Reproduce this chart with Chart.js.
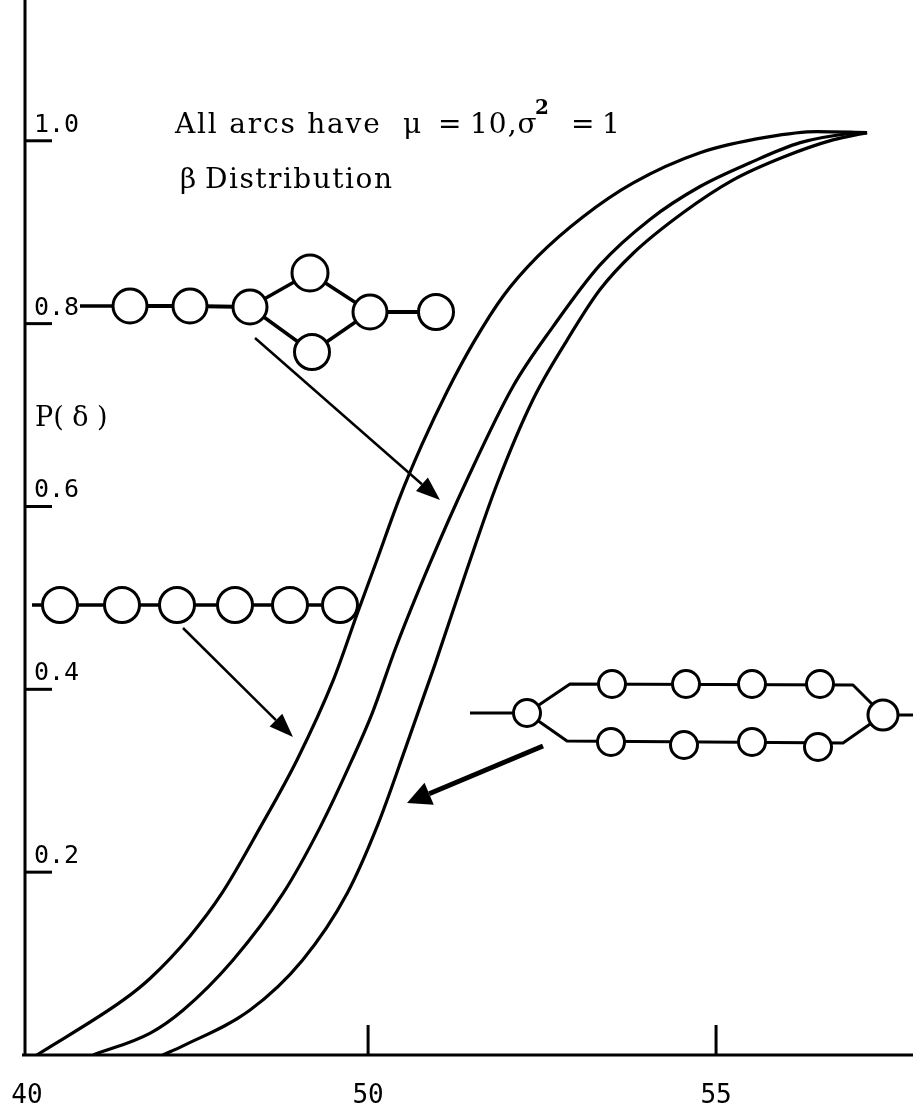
<!DOCTYPE html>
<html><head><meta charset="utf-8">
<script src="https://cdn.jsdelivr.net/npm/chart.js@4.4.0/dist/chart.umd.min.js"></script>
<style>html,body{margin:0;padding:0;background:#fff;overflow:hidden}#wrap{width:913px;height:1110px;position:relative}</style>
</head><body><div id="wrap"><canvas id="c" width="913" height="1110"></canvas></div>
<script>
// ---- data ----
const curveA_x = [45.24, 46.48, 46.87, 47.44, 47.90, 48.45, 48.98, 49.50, 49.85, 50.13, 50.44, 50.77, 51.13, 51.52, 51.94, 52.43, 53.09, 53.81, 54.77, 55.73, 56.45, 57.17];
const curveA_y = [0, 0.060, 0.084, 0.130, 0.177, 0.249, 0.323, 0.410, 0.484, 0.542, 0.607, 0.667, 0.725, 0.780, 0.830, 0.873, 0.917, 0.954, 0.987, 1.004, 1.010, 1.009];
const curveB_x = [46.05, 46.87, 47.34, 48.06, 48.78, 49.31, 49.77, 50.06, 50.40, 50.89, 51.42, 52.08, 52.66, 53.33, 54.05, 54.77, 55.49, 56.21, 56.92, 57.17];
const curveB_y = [0, 0.024, 0.049, 0.104, 0.177, 0.249, 0.323, 0.374, 0.446, 0.538, 0.629, 0.731, 0.797, 0.864, 0.914, 0.950, 0.976, 0.998, 1.008, 1.009];
const curveC_x = [47.05, 47.34, 48.30, 49.06, 49.70, 50.14, 50.53, 50.96, 51.42, 51.85, 52.37, 52.86, 53.33, 53.81, 54.52, 55.24, 55.96, 56.68, 57.17];
const curveC_y = [0, 0.010, 0.049, 0.104, 0.177, 0.252, 0.334, 0.427, 0.531, 0.624, 0.717, 0.782, 0.837, 0.877, 0.921, 0.957, 0.982, 1.001, 1.009];

const xTickValues = [45.07, 50, 55];
const xTickLabels = ['40', '50', '55'];
const yTickValues = [0.2, 0.4, 0.6, 0.8, 1.0];
const yTickLabels = ['0.2', '0.4', '0.6', '0.8', '1.0'];
const yAxisTitle = 'P( δ )';
const noteLine1 = ['All arcs have', 'μ', '=', '10,σ', '2', '=', '1'];
const noteLine2 = ['β', 'Distribution'];

const X_MIN = 45.07, X_MAX = 57.83, Y_MIN = 0, Y_MAX = 1.154;

function pts(xs, ys){ return xs.map((x,i)=>({x:x, y:ys[i]})); }

function circle(ctx, x, y, r){
  ctx.beginPath(); ctx.arc(x, y, r, 0, Math.PI*2);
  ctx.fillStyle = '#fff'; ctx.fill();
  ctx.lineWidth = 3; ctx.strokeStyle = '#000'; ctx.stroke();
}
function seg(ctx, pts, w){
  ctx.beginPath(); ctx.moveTo(pts[0][0], pts[0][1]);
  for (let i=1;i<pts.length;i++) ctx.lineTo(pts[i][0], pts[i][1]);
  ctx.lineWidth = w; ctx.strokeStyle = '#000'; ctx.lineCap='butt'; ctx.lineJoin='round'; ctx.stroke();
}
function arrow(ctx, x0, y0, x1, y1, w, hl, hw){
  const a = Math.atan2(y1-y0, x1-x0);
  const bx = x1 - hl*Math.cos(a), by = y1 - hl*Math.sin(a);
  seg(ctx, [[x0,y0],[bx,by]], w);
  ctx.beginPath();
  ctx.moveTo(x1, y1);
  ctx.lineTo(bx + hw*Math.sin(a), by - hw*Math.cos(a));
  ctx.lineTo(bx - hw*Math.sin(a), by + hw*Math.cos(a));
  ctx.closePath(); ctx.fillStyle = '#000'; ctx.fill();
}

const decor = {
  id: 'decor',
  beforeDraw(chart){
    const ctx = chart.ctx;
    ctx.save(); ctx.fillStyle = '#fff'; ctx.fillRect(0,0,chart.width,chart.height); ctx.restore();
  },
  beforeDatasetsDraw(chart){
    const ctx = chart.ctx; ctx.save();
    // Diagram 1: series with one parallel pair
    seg(ctx, [[80,306],[130,306]], 3.5);
    seg(ctx, [[130,306],[190,306],[250,307]], 4);
    seg(ctx, [[250,307],[310,273],[370,312]], 3.5);
    seg(ctx, [[250,307],[312,352],[370,312]], 3.5);
    seg(ctx, [[370,312],[436,312]], 4);
    [[130,306,17],[190,306,17],[250,307,17],[310,273,18],[312,352,17.5],[370,312,17],[436,312,17.5]].forEach(c=>circle(ctx,c[0],c[1],c[2]));
    // Diagram 2: six in series
    seg(ctx, [[32,605],[340,605]], 3.5);
    [60,122,177,235,290,340].forEach(x=>circle(ctx,x,605,17.5));
    // Diagram 3: two parallel chains
    seg(ctx, [[470,713],[527,713]], 3);
    seg(ctx, [[527,713],[570,684],[853,685],[883,715]], 3);
    seg(ctx, [[527,713],[567,741],[843,743],[883,715]], 3);
    seg(ctx, [[883,715],[913,715]], 3);
    circle(ctx,527,713,13.5);
    [612,686,752,820].forEach(x=>circle(ctx,x,684,13.5));
    [[611,742],[684,745],[752,742],[818,747]].forEach(p=>circle(ctx,p[0],p[1],13.5));
    circle(ctx,883,715,15);
    // arrows
    arrow(ctx, 255, 338, 440, 500, 2.5, 24, 9);
    arrow(ctx, 183, 628, 293, 737, 2.5, 24, 9);
    arrow(ctx, 543, 746, 407, 803, 5, 24, 12);
    ctx.restore();
  },
  afterDatasetsDraw(chart){
    const ctx = chart.ctx, a = chart.chartArea;
    const xs = chart.scales.x, ys = chart.scales.y;
    ctx.save();
    ctx.strokeStyle = '#000'; ctx.fillStyle = '#000';
    // axes
    seg(ctx, [[a.left, 0],[a.left, a.bottom]], 3);
    seg(ctx, [[a.left-3, a.bottom],[a.right, a.bottom]], 3);
    // x ticks
    ctx.font = '26px "DejaVu Sans Mono"'; ctx.textAlign = 'center'; ctx.textBaseline = 'alphabetic';
    xTickValues.forEach((v,i)=>{
      const px = xs.getPixelForValue(v);
      if (i>0) seg(ctx, [[px, a.bottom],[px, a.bottom-30]], 3);
      ctx.fillText(xTickLabels[i], i===0 ? px+2 : px, a.bottom+48);
    });
    // y ticks
    ctx.font = '25px "DejaVu Sans Mono"'; ctx.textAlign = 'left';
    yTickValues.forEach((v,i)=>{
      const py = ys.getPixelForValue(v);
      seg(ctx, [[a.left, py],[a.left+27, py]], 3);
      ctx.fillText(yTickLabels[i], a.left+9, py-9);
    });
    // y axis title
    ctx.font = '27px "DejaVu Serif"';
    ctx.fillText(yAxisTitle, a.left+10, 426);
    // notes
    ctx.font = '28px "DejaVu Serif"';
    ctx.letterSpacing = '1.8px';
    ctx.fillText(noteLine1[0], 175, 133);
    ctx.letterSpacing = '0px';
    ctx.fillText(noteLine1[1], 403, 133);
    ctx.fillText(noteLine1[2], 438, 133);
    ctx.letterSpacing = '1px';
    ctx.fillText(noteLine1[3], 470, 133);
    ctx.letterSpacing = '0px';
    ctx.fillText(noteLine1[5], 571, 133);
    ctx.fillText(noteLine1[6], 602, 133);
    ctx.font = 'bold 20px "DejaVu Serif"';
    ctx.fillText(noteLine1[4], 535, 114);
    ctx.font = '28px "DejaVu Serif"';
    ctx.fillText(noteLine2[0], 180, 188);
    ctx.letterSpacing = '1.5px';
    ctx.fillText(noteLine2[1], 205, 188);
    ctx.letterSpacing = '0px';
    ctx.restore();
  }
};

new Chart(document.getElementById('c'), {
  type: 'line',
  data: {
    datasets: [
      {data: pts(curveA_x, curveA_y)},
      {data: pts(curveB_x, curveB_y)},
      {data: pts(curveC_x, curveC_y)}
    ].map(d => Object.assign(d, {borderColor:'#000', borderWidth:3.2, pointRadius:0, fill:false, cubicInterpolationMode:'monotone'}))
  },
  options: {
    responsive: false, animation: false, events: [],
    layout: {padding: {left: 25, right: 0, top: 0, bottom: 55}},
    plugins: {legend: {display:false}, tooltip: {enabled:false}},
    scales: {
      x: {type:'linear', display:false, min:X_MIN, max:X_MAX},
      y: {type:'linear', display:false, min:Y_MIN, max:Y_MAX}
    }
  },
  plugins: [decor]
});
</script></body></html>
